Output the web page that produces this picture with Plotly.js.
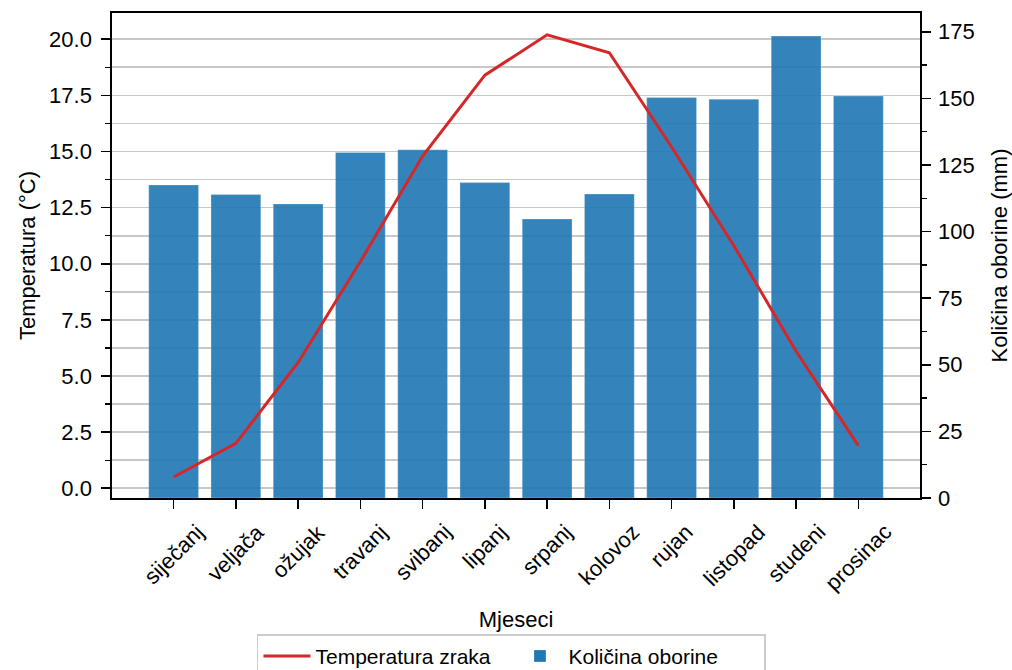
<!DOCTYPE html>
<html>
<head>
<meta charset="utf-8">
<script src="https://cdn.plot.ly/plotly-3.0.1.min.js"></script>
<style>html,body{margin:0;padding:0;background:#fff;}#chart{width:1012px;height:670px;}</style>
</head>
<body>
<div id="chart"></div>
<script>
const months = ["siječanj","veljača","ožujak","travanj","svibanj","lipanj","srpanj","kolovoz","rujan","listopad","studeni","prosinac"];
const temperature = [0.5, 2.0, 5.6, 10.1, 14.8, 18.4, 20.2, 19.4, 15.2, 10.8, 6.1, 1.9];
const precipitation = [117.5, 113.9, 110.4, 129.7, 130.7, 118.4, 104.7, 114.1, 150.3, 149.7, 173.4, 150.9];

const FONT = "Liberation Sans, Arial, sans-serif";
const TS = 22;
const gridColor = "rgba(176,176,176,0.7)";

const traces = [
  {
    type: "bar", x: months, y: precipitation, yaxis: "y", xaxis: "x",
    name: "Količina oborine", width: 0.8,
    marker: {color: "#1f77b4", opacity: 0.9, line: {color: "rgba(255,255,255,0.25)", width: 1}},
    legendrank: 2, hoverinfo: "skip"
  },
  {
    type: "scatter", mode: "lines", x: months, y: temperature, yaxis: "y2", xaxis: "x",
    name: "Temperatura zraka", line: {color: "#d62728", width: 3},
    legendrank: 1, hoverinfo: "skip"
  }
];

// rotated month labels, centred under each tick (x from the category axis)
const monthLabels = months.map(m => ({
  x: m, xref: "x", y: 0, yref: "paper", yshift: -20,
  text: m, showarrow: false, textangle: -45,
  xanchor: "center", yanchor: "top", borderpad: 0,
  font: {family: FONT, size: TS, color: "#000"}
}));

const layout = {
  width: 1012, height: 670,
  margin: {l: 112, r: 92, t: 13, b: 171.5, pad: 0, autoexpand: false},
  paper_bgcolor: "#fff", plot_bgcolor: "#fff",
  font: {family: FONT, size: TS, color: "#000"},
  showlegend: true,
  legend: {
    orientation: "h", x: 0.4944, xanchor: "center", y: -0.281, yanchor: "top",
    bordercolor: "#cccccc", borderwidth: 1.5, bgcolor: "#fff",
    font: {family: FONT, size: 21, color: "#000"}, itemwidth: 47, entrywidth: 191, traceorder: "normal"
  },
  annotations: monthLabels,
  xaxis: {
    type: "category", range: [-0.99, 11.99], automargin: false,
    ticks: "outside", ticklen: 9, tickwidth: 1.7, tickcolor: "#000",
    showticklabels: false, showgrid: false, zeroline: false,
    showline: true, mirror: true, linecolor: "#000", linewidth: 1.7,
    title: {text: "Mjeseci", font: {family: FONT, size: TS, color: "#000"}, standoff: 104}
  },
  yaxis: {
    side: "right", range: [0, 182.05], tick0: 0, dtick: 25, automargin: false,
    ticks: "outside", ticklen: 9, tickwidth: 1.7, tickcolor: "#000", ticklabelstandoff: 3,
    minor: {dtick: 12.5, tick0: 0, ticks: "outside", ticklen: 5, tickwidth: 1.3, tickcolor: "#000", showgrid: false},
    showgrid: false, zeroline: false,
    showline: true, linecolor: "#000", linewidth: 1.7,
    tickfont: {family: FONT, size: TS, color: "#000"},
    title: {text: "Količina oborine (mm)", font: {family: FONT, size: TS, color: "#000"}, standoff: 20}
  },
  yaxis2: {
    overlaying: "y", side: "left", range: [-0.436, 21.17], tick0: 0, dtick: 2.5, tickformat: ".1f", automargin: false,
    ticks: "outside", ticklen: 9, tickwidth: 1.7, tickcolor: "#000", ticklabelstandoff: 5,
    showgrid: true, gridcolor: gridColor, gridwidth: 1.7,
    minor: {dtick: 1.25, tick0: 0, ticks: "outside", ticklen: 5, tickwidth: 1.3, tickcolor: "#000", showgrid: true, gridcolor: gridColor, gridwidth: 1.7},
    zeroline: false,
    showline: true, linecolor: "#000", linewidth: 1.7,
    tickfont: {family: FONT, size: TS, color: "#000"},
    title: {text: "Temperatura (°C)", font: {family: FONT, size: TS, color: "#000"}, standoff: 7}
  }
};

Plotly.newPlot("chart", traces, layout, {displayModeBar: false, staticPlot: true});
</script>
</body>
</html>
